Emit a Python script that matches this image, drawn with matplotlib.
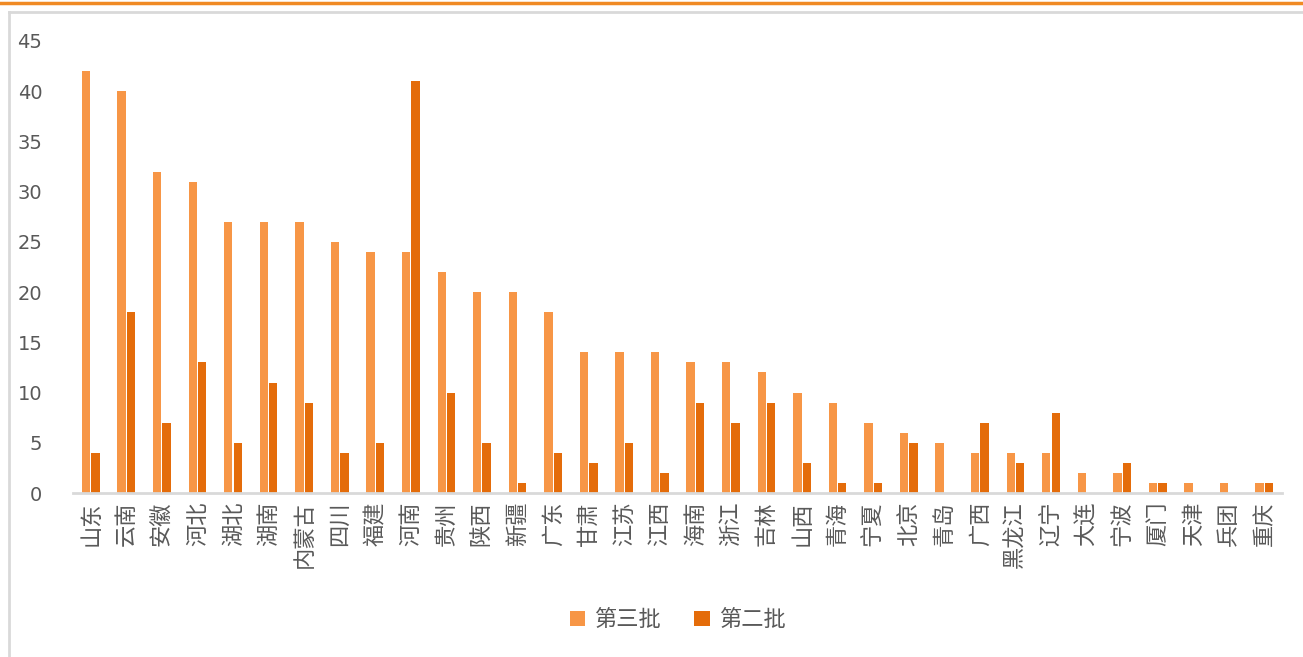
import matplotlib
matplotlib.use("Agg")
import matplotlib.pyplot as plt
from matplotlib.lines import Line2D
import numpy as np

plt.rcParams['font.family'] = ['Noto Sans CJK SC', 'DejaVu Sans']

regions = ['山东', '云南', '安徽', '河北', '湖北', '湖南', '内蒙古', '四川', '福建', '河南',
           '贵州', '陕西', '新疆', '广东', '甘肃', '江苏', '江西', '海南', '浙江', '吉林',
           '山西', '青海', '宁夏', '北京', '青岛', '广西', '黑龙江', '辽宁', '大连', '宁波',
           '厦门', '天津', '兵团', '重庆']
batch3 = [42, 40, 32, 31, 27, 27, 27, 25, 24, 24,
          22, 20, 20, 18, 14, 14, 14, 13, 13, 12,
          10, 9, 7, 6, 5, 4, 4, 4, 2, 2,
          1, 1, 1, 1]
batch2 = [4, 18, 7, 13, 5, 11, 9, 4, 5, 41,
          10, 5, 1, 4, 3, 5, 2, 9, 7, 9,
          3, 1, 1, 5, 0, 7, 3, 8, 0, 3,
          1, 0, 0, 1]
series_names = ['第三批', '第二批']

c3 = '#F79646'
c2 = '#E46C0A'

fig = plt.figure(figsize=(13.03, 6.57), dpi=100)
ax = fig.add_axes([0.056, 0.2496, 0.928, 0.688])

x = np.arange(len(regions))
w = 0.235
ax.bar(x - w / 2 - 0.015, batch3, w, color=c3, label=series_names[0])
ax.bar(x + w / 2 + 0.015, batch2, w, color=c2, label=series_names[1])

ax.set_xlim(-0.5, len(regions) - 0.5)
ax.set_ylim(0, 45)
ax.set_yticks(range(0, 46, 5))
ax.set_xticks(x)
ax.set_xticklabels(regions, rotation=90, fontsize=16, color='#595959', fontweight='light')
ax.tick_params(axis='y', length=0, pad=22, labelsize=14, labelcolor='#595959')
ax.tick_params(axis='x', length=0, pad=6)
for lbl in ax.get_yticklabels():
    lbl.set_family('DejaVu Sans')

for s in ['top', 'right', 'left']:
    ax.spines[s].set_visible(False)
ax.spines['bottom'].set_color('#D9D9D9')
ax.spines['bottom'].set_linewidth(2)

ax.legend(loc='center', bbox_to_anchor=(0.5, -0.28), ncol=2, frameon=False,
          prop={'size': 16, 'weight': 'light'}, handlelength=0.7, handleheight=0.7,
          handletextpad=0.4, columnspacing=1.5, labelcolor='#595959')

# outer frame and top accent line
fy = 1 - 12 / 657
fx = 9 / 1303
fig.add_artist(Line2D([fx, 1], [fy, fy], color='#D9D9D9', lw=2))
fig.add_artist(Line2D([fx, fx], [0, fy], color='#D9D9D9', lw=2))
ty = 1 - 3 / 657
fig.add_artist(Line2D([0, 1], [ty, ty], color='#F08A24', lw=2.5))

fig.savefig('out.png', dpi=100)
